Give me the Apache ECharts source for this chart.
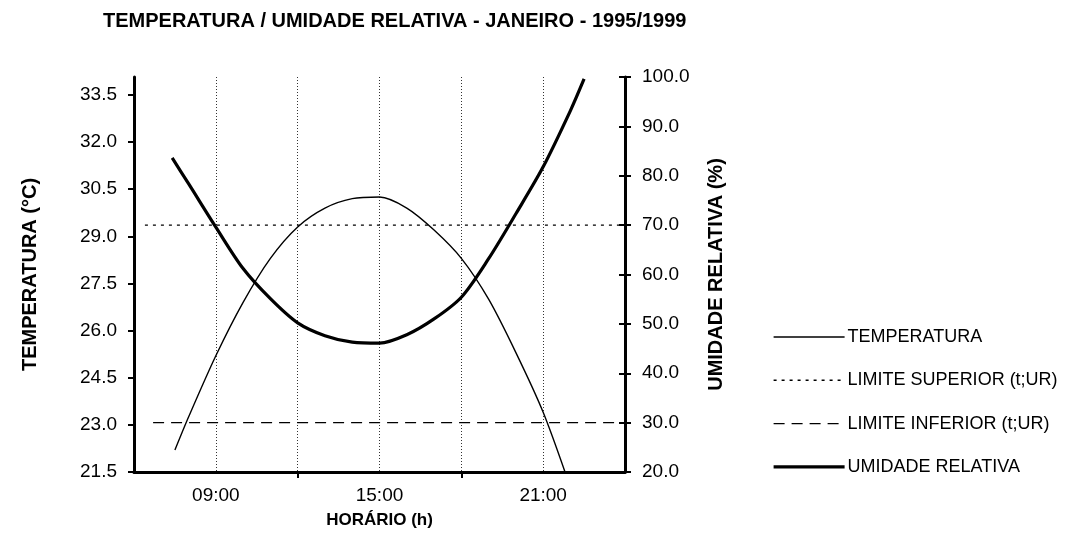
<!DOCTYPE html>
<html>
<head>
<meta charset="utf-8">
<script src="https://cdn.jsdelivr.net/npm/echarts@6/dist/echarts.min.js"></script>
<style>
  html, body { margin: 0; padding: 0; background: #fff; }
  #chart { width: 1067px; height: 551px; }
</style>
</head>
<body>
<div id="chart"></div>
<script>
// horas (h) e valores
const horasTemp = [7.5, 8, 9, 10, 11, 12, 13, 14, 15, 16, 17, 18, 19, 20, 21, 22];
const temperatura = [22.2, 23.25, 25.2, 26.9, 28.3, 29.3, 29.9, 30.2, 30.25, 29.9, 29.2, 28.3, 27.0, 25.3, 23.4, 21.0];

const horasUmid = [7.4, 8, 9, 10, 11, 12, 13, 14, 15, 16, 17, 18, 19, 20, 21, 22, 22.5];
const umidade = [83.6, 78.4, 69.6, 61.2, 55.1, 50.2, 47.6, 46.3, 46.1, 47.8, 51.0, 55.4, 63.2, 72.3, 81.8, 93.2, 99.6];

const limiteSupHoras = [6.4, 24];
const limiteSup = [70, 70];
const limiteInfHoras = [6.7, 24];
const limiteInf = [30, 30];

const tempTicks = [21.5, 23.0, 24.5, 26.0, 27.5, 29.0, 30.5, 32.0, 33.5];
const horaLabels = [9, 15, 21];
const horaTicks = [12, 18];

const zip = (xs, ys) => xs.map((x, i) => [x, ys[i]]);

const font = "Liberation Sans, Arial, sans-serif";

const estilos = {
  temp: { color: "#000", width: 1.4 },
  sup: { color: "#000", width: 1.4, type: [3, 5] },
  inf: { color: "#000", width: 1.4, type: [11, 7] },
  umid: { color: "#000", width: 3.2 },
};

const chart = echarts.init(document.getElementById("chart"));
chart.setOption({
  animation: false,
  backgroundColor: "#fff",
  textStyle: { fontFamily: font, color: "#000" },
  title: {
    text: "TEMPERATURA / UMIDADE RELATIVA - JANEIRO - 1995/1999",
    left: 98,
    top: 6,
    textStyle: { fontFamily: font, fontSize: 20, fontWeight: "bold", color: "#000" },
  },
  legend: {
    orient: "vertical",
    left: 767,
    top: 323,
    itemWidth: 71,
    itemHeight: 14,
    itemGap: 25.3,
    itemStyle: { opacity: 0 },
    textStyle: { fontFamily: font, fontSize: 18, color: "#000", padding: [0, 0, 0, -2] },
    data: [
      { name: "TEMPERATURA", lineStyle: estilos.temp },
      { name: "LIMITE SUPERIOR (t;UR)", lineStyle: estilos.sup },
      { name: "LIMITE INFERIOR (t;UR)", lineStyle: estilos.inf },
      { name: "UMIDADE RELATIVA", lineStyle: estilos.umid },
    ],
  },
  grid: { left: 134, right: 442, top: 77, bottom: 79 },
  xAxis: [
    {
      type: "value",
      min: 6,
      max: 24,
      name: "HORÁRIO (h)",
      nameLocation: "middle",
      nameGap: 40,
      nameTextStyle: { fontFamily: font, fontSize: 17, fontWeight: "bold", color: "#000" },
      axisLine: { lineStyle: { color: "#000", width: 3 } },
      axisTick: { customValues: horaTicks, length: 6, lineStyle: { color: "#000", width: 2 } },
      axisLabel: {
        customValues: horaLabels,
        margin: 14,
        fontSize: 19,
        color: "#000",
        formatter: (v) => String(v).padStart(2, "0") + ":00",
      },
      splitLine: { show: false },
      z: 3,
    },
    {
      // só as linhas de grade verticais (a cada 3 h)
      type: "value",
      min: 6,
      max: 24,
      interval: 3,
      position: "bottom",
      axisLine: { show: false },
      axisTick: { show: false },
      axisLabel: { show: false },
      splitLine: { show: true, lineStyle: { color: "#333", width: 1, type: [1, 2] } },
    },
  ],
  yAxis: [
    {
      type: "value",
      min: 21.5,
      max: 34.07,
      position: "left",
      name: "TEMPERATURA (°C)",
      nameLocation: "middle",
      nameGap: 94,
      nameTextStyle: { fontFamily: font, fontSize: 20, fontWeight: "bold", color: "#000" },
      axisLine: { show: true, lineStyle: { color: "#000", width: 3 } },
      axisTick: { show: true, customValues: tempTicks, length: 6, lineStyle: { color: "#000", width: 2 } },
      axisLabel: {
        customValues: tempTicks,
        margin: 17,
        fontSize: 19,
        color: "#000",
        formatter: (v) => v.toFixed(1),
      },
      splitLine: { show: false },
    },
    {
      type: "value",
      min: 20,
      max: 100,
      interval: 10,
      position: "right",
      name: "UMIDADE RELATIVA (%)",
      nameLocation: "middle",
      nameGap: 81,
      nameTextStyle: { fontFamily: font, fontSize: 20, fontWeight: "bold", color: "#000" },
      axisLine: { show: true, lineStyle: { color: "#000", width: 3 } },
      axisTick: { show: true, length: 6, lineStyle: { color: "#000", width: 2 } },
      axisLabel: {
        margin: 17,
        fontSize: 19,
        color: "#000",
        formatter: (v) => v.toFixed(1),
      },
      splitLine: { show: false },
    },
    {
      type: "value",
      min: 20,
      max: 100,
      interval: 10,
      position: "right",
      axisLine: { show: false },
      axisTick: { show: true, inside: true, length: 6, lineStyle: { color: "#000", width: 2 } },
      axisLabel: { show: false },
      splitLine: { show: false },
    },
  ],
  series: [
    {
      name: "TEMPERATURA",
      type: "line",
      yAxisIndex: 0,
      smooth: 0.3,
      symbol: "none",
      clip: true,
      lineStyle: estilos.temp,
      itemStyle: { color: "#000" },
      data: zip(horasTemp, temperatura),
    },
    {
      name: "LIMITE SUPERIOR (t;UR)",
      type: "line",
      yAxisIndex: 1,
      symbol: "none",
      lineStyle: estilos.sup,
      itemStyle: { color: "#000" },
      data: zip(limiteSupHoras, limiteSup),
    },
    {
      name: "LIMITE INFERIOR (t;UR)",
      type: "line",
      yAxisIndex: 1,
      symbol: "none",
      lineStyle: estilos.inf,
      itemStyle: { color: "#000" },
      data: zip(limiteInfHoras, limiteInf),
    },
    {
      name: "UMIDADE RELATIVA",
      type: "line",
      yAxisIndex: 1,
      smooth: 0.3,
      symbol: "none",
      clip: true,
      lineStyle: estilos.umid,
      itemStyle: { color: "#000" },
      data: zip(horasUmid, umidade),
    },
  ],
});
</script>
</body>
</html>
